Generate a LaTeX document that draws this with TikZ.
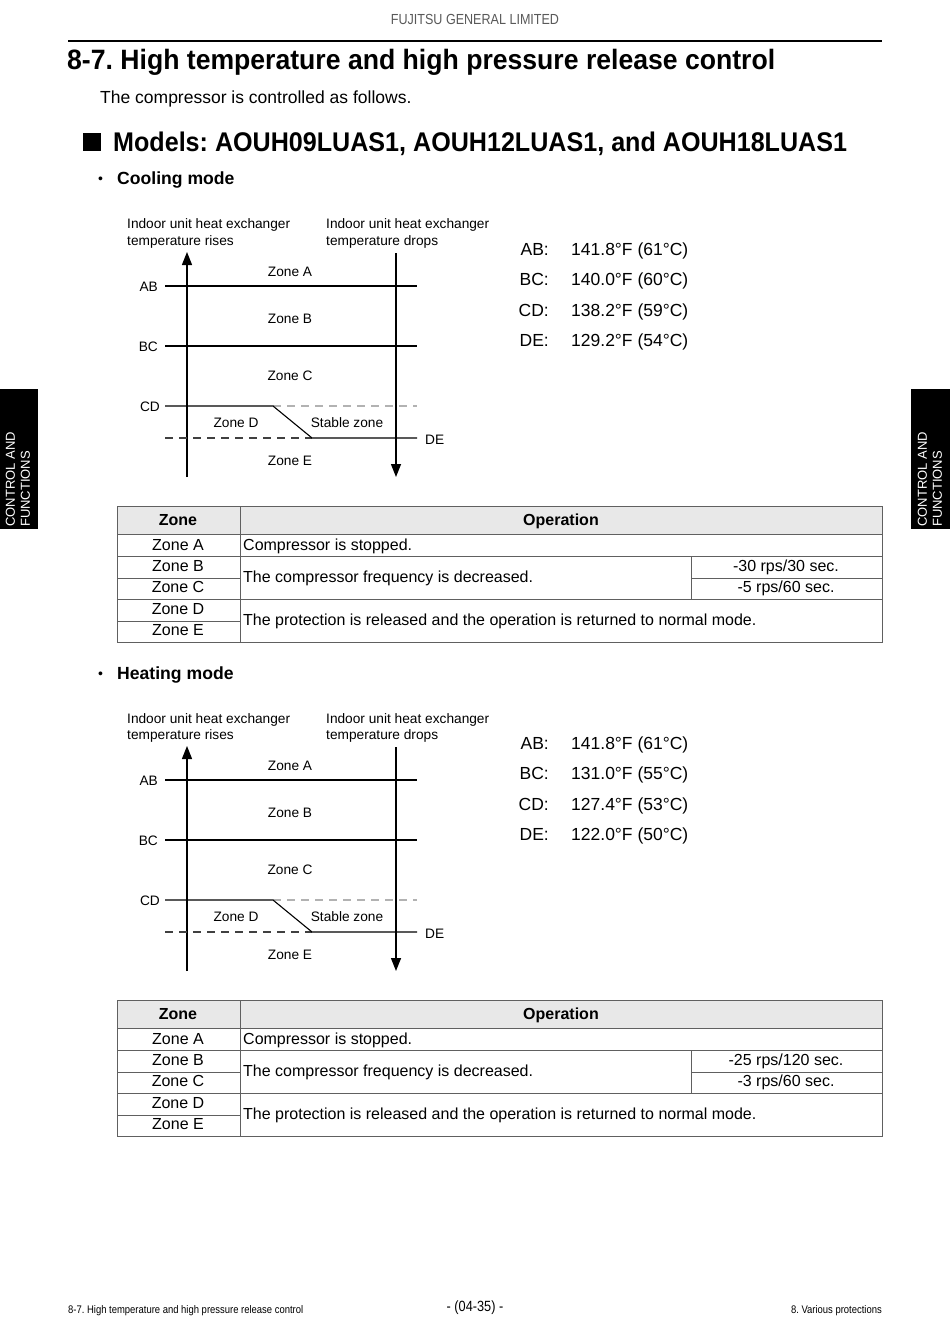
\documentclass[tikz,border=0pt]{standalone}
\usepackage{fontspec}
\setmainfont{Liberation Sans}
\newfontfamily\condfont[FakeStretch=0.86]{Liberation Sans}
\newfontfamily\titlefont[FakeStretch=0.95]{Liberation Sans}
\newfontfamily\modelfont[FakeStretch=0.93]{Liberation Sans}
\usetikzlibrary{arrows.meta}
\frenchspacing
\newcommand\fs[1]{\fontsize{#1}{#1}\selectfont}
\tikzset{
  lbl/.style={inner sep=0pt, font=\fs{13.7}},
  tbl/.style={inner sep=0pt, font=\fs{16}, anchor=base},
  tblw/.style={inner sep=0pt, font=\fs{16}, anchor=base west},
  val/.style={inner sep=0pt, font=\fs{17.5}, anchor=base west},
  vkey/.style={inner sep=0pt, font=\fs{17.5}, anchor=base east},
  axis/.style={line width=1.4pt, -{Triangle[width=10pt,length=13pt]}},
  level/.style={line width=1.1pt},
  dashlight/.style={line width=1.1pt, dash pattern=on 8pt off 6pt, gray!60},
  dashdark/.style={line width=1.1pt, dash pattern=on 8pt off 6pt, black!75},
  grid/.style={line width=0.9pt, gray!75!black},
  tab/.style={fill=black},
  tabtext/.style={text=white, rotate=90, align=left, inner sep=0pt, font=\fontsize{13}{15}\selectfont}
}
\newcommand\modeblock[8]{%
\begin{scope}[yshift=#2]
  % axis labels
  \node[lbl, anchor=base west] (#1lblL) at (127,229) {Indoor unit heat exchanger};
  \node[lbl, anchor=base west] (#1lblL2) at (127,245) {temperature rises};
  \node[lbl, anchor=base west] (#1lblR) at (326,229) {Indoor unit heat exchanger};
  \node[lbl, anchor=base west] (#1lblR2) at (326,245) {temperature drops};
  % axes
  \coordinate (#1upS) at (187,477); \coordinate (#1upE) at (187,252);
  \coordinate (#1dnS) at (396,253); \coordinate (#1dnE) at (396,477);
  \draw[axis] (#1upS) -- (#1upE);
  \draw[axis] (#1dnS) -- (#1dnE);
  % levels
  \coordinate (#1abL) at (165,286); \coordinate (#1abR) at (417,286);
  \coordinate (#1bcL) at (165,346); \coordinate (#1bcR) at (417,346);
  \coordinate (#1cdL) at (165,406); \coordinate (#1cdK) at (273,406); \coordinate (#1cdR) at (417,406);
  \coordinate (#1deL) at (165,438); \coordinate (#1deK) at (312,438); \coordinate (#1deR) at (417,438);
  \draw[level] (#1abL) -- (#1abR);
  \draw[level] (#1bcL) -- (#1bcR);
  \draw[dashlight] (#1cdK) -- (#1cdR);
  \draw[dashdark] (#1deL) -- (#1deK);
  \draw[level] (#1cdL) -- (#1cdK) -- (#1deK) -- (#1deR);
  \node[lbl, anchor=base east] (#1AB) at (158,291) {AB};
  \node[lbl, anchor=base east] (#1BC) at (158,351) {BC};
  \node[lbl, anchor=base east] (#1CD) at (160,411) {CD};
  \node[lbl, anchor=base west] (#1DE) at (425,444) {DE};
  \node[lbl, anchor=base] (#1zA) at (290,276) {Zone A};
  \node[lbl, anchor=base] (#1zB) at (290,323) {Zone B};
  \node[lbl, anchor=base] (#1zC) at (290,380) {Zone C};
  \node[lbl, anchor=base] (#1zD) at (236,427) {Zone D};
  \node[lbl, anchor=base] (#1zS) at (347,427) {Stable zone};
  \node[lbl, anchor=base] (#1zE) at (290,465) {Zone E};
  % values
  \node[vkey] (#1kAB) at (549,255.5) {AB:};
  \node[val]  (#1vAB) at (571,255.5) {#3};
  \node[vkey] (#1kBC) at (549,285.5) {BC:};
  \node[val]  (#1vBC) at (571,285.5) {#4};
  \node[vkey] (#1kCD) at (549,316) {CD:};
  \node[val]  (#1vCD) at (571,316) {#5};
  \node[vkey] (#1kDE) at (549,346.5) {DE:};
  \node[val]  (#1vDE) at (571,346.5) {#6};
  % table
  \fill[gray!18] (117,506) rectangle (882,534);
  \draw[grid] (117,506) rectangle (882,642);
  \draw[grid] (117,534) -- (882,534);
  \draw[grid] (117,556) -- (882,556);
  \draw[grid] (117,599) -- (882,599);
  \draw[grid] (117,578) -- (240,578);
  \draw[grid] (691,578) -- (882,578);
  \draw[grid] (117,621) -- (240,621);
  \draw[grid] (240,506) -- (240,642);
  \draw[grid] (691,556) -- (691,599);
  \node[tbl, font=\fs{16}\bfseries] (#1hZ) at (178,525.5) {Zone};
  \node[tbl, font=\fs{16}\bfseries] (#1hO) at (561,525.5) {Operation};
  \node[tbl] (#1rA) at (178,550) {Zone A};
  \node[tbl] (#1rB) at (178,571) {Zone B};
  \node[tbl] (#1rC) at (178,592.5) {Zone C};
  \node[tbl] (#1rD) at (178,614) {Zone D};
  \node[tbl] (#1rE) at (178,635.5) {Zone E};
  \node[tblw] (#1oA) at (243,550) {Compressor is stopped.};
  \node[tblw] (#1oB) at (243,582.5) {The compressor frequency is decreased.};
  \node[tbl] (#1pB) at (786,571.5) {#7};
  \node[tbl] (#1pC) at (786,592.5) {#8};
  \node[tblw] (#1oD) at (243,625.5) {The protection is released and the operation is returned to normal mode.};
\end{scope}}

\begin{document}
\begin{tikzpicture}[x=1pt,y=-1pt]
\useasboundingbox (0,0) rectangle (950,1343);
\fill[white] (0,0) rectangle (950,1343);
% header
\node[inner sep=0pt, font=\condfont\fs{14.6}, text=black!65] (hdr) at (475,19) {FUJITSU GENERAL LIMITED};
\coordinate (hl) at (68,41); \coordinate (hr) at (882,41);
\draw[line width=1.3pt] (hl) -- (hr);
\node[inner sep=0pt, anchor=base west, font=\titlefont\bfseries\fs{28}] (title) at (67,70) {8-7. High temperature and high pressure release control};
\node[inner sep=0pt, anchor=base west, font=\fs{17.5}] (intro) at (100,104) {The compressor is controlled as follows.};
\fill[black] (83,133) rectangle (101,151);
\node[inner sep=0pt, anchor=base west, font=\modelfont\bfseries\fs{27}] (models) at (113,152) {Models: AOUH09LUAS1, AOUH12LUAS1, and AOUH18LUAS1};
\node[inner sep=0pt, anchor=base west, font=\fs{14}] (b1) at (98,184) {•};
\node[inner sep=0pt, anchor=base west, font=\bfseries\fs{17.6}] (cool) at (117,185) {Cooling mode};
\node[inner sep=0pt, anchor=base west, font=\fs{14}] (b2) at (98,678) {•};
\node[inner sep=0pt, anchor=base west, font=\bfseries\fs{17.6}] (heat) at (117,679) {Heating mode};
% side tabs
\fill[tab] (0,389) rectangle (38,529);
\node[tabtext, anchor=west] (tabL) at (18,527) {CONTROL AND\\FUNCTIONS};
\fill[tab] (911,389) rectangle (950,529);
\node[tabtext, anchor=west] (tabR) at (930,527) {CONTROL AND\\FUNCTIONS};
% blocks
\modeblock{c}{0pt}{141.8°F (61°C)}{140.0°F (60°C)}{138.2°F (59°C)}{129.2°F (54°C)}{-30 rps/30 sec.}{-5 rps/60 sec.}
\modeblock{h}{-494pt}{141.8°F (61°C)}{131.0°F (55°C)}{127.4°F (53°C)}{122.0°F (50°C)}{-25 rps/120 sec.}{-3 rps/60 sec.}
% footer
\node[inner sep=0pt, anchor=base west, font=\condfont\fs{11}] (fl) at (68,1313) {8-7. High temperature and high pressure release control};
\node[inner sep=0pt, font=\condfont\fs{14.8}] (fc) at (475,1308) {- (04-35) -};
\node[inner sep=0pt, anchor=base east, font=\condfont\fs{11}] (fr) at (882,1313) {8. Various protections};
\end{tikzpicture}
\end{document}
